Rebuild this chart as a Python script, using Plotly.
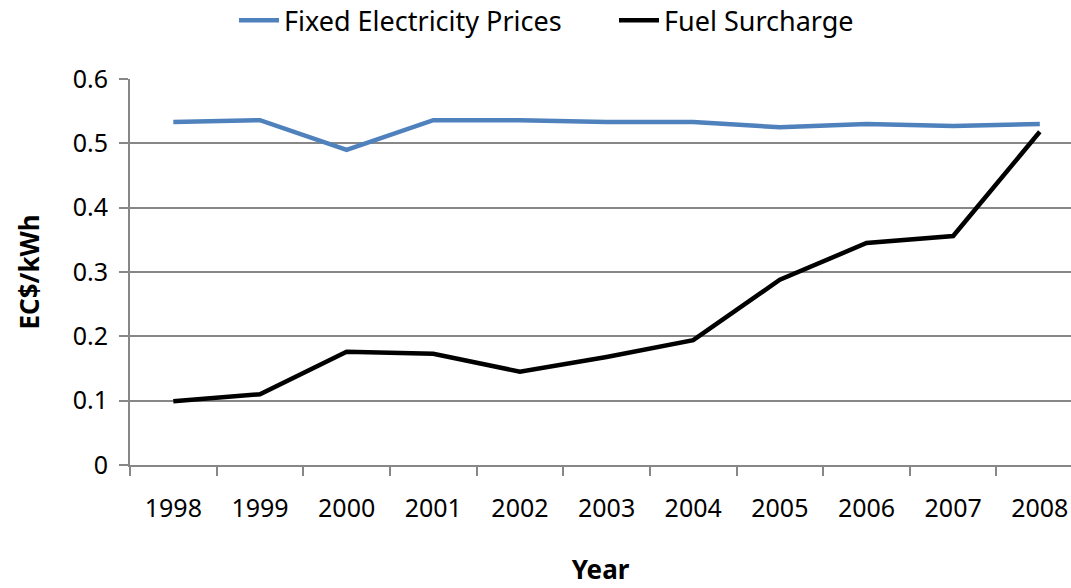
import plotly.graph_objects as go

# data
years = ['1998', '1999', '2000', '2001', '2002', '2003', '2004', '2005', '2006', '2007', '2008']
fixed_prices = [0.533, 0.536, 0.490, 0.536, 0.536, 0.533, 0.533, 0.525, 0.530, 0.527, 0.530]
fuel_surcharge = [0.099, 0.110, 0.176, 0.173, 0.145, 0.168, 0.194, 0.288, 0.345, 0.356, 0.518]

font_name = 'Noto Sans'
axis_grey = '#878787'

fig = go.Figure()
fig.add_trace(go.Scatter(x=years, y=fixed_prices, mode='lines', name='Fixed Electricity Prices',
                         line=dict(color='#4F81BD', width=4.5)))
fig.add_trace(go.Scatter(x=years, y=fuel_surcharge, mode='lines', name='Fuel Surcharge',
                         line=dict(color='black', width=4.5)))

fig.update_layout(
    width=1071, height=588,
    margin=dict(l=130, r=0, t=79, b=123),
    plot_bgcolor='white', paper_bgcolor='white',
    font=dict(family=font_name, size=25, color='black'),
    legend=dict(orientation='h', xref='container', yref='container',
                x=0.2185, y=0.965, xanchor='left', yanchor='middle',
                font=dict(size=27), itemwidth=40, tracegroupgap=0,
                entrywidth=325, entrywidthmode='pixels'),
    showlegend=True,
)

fig.update_xaxes(
    type='category', range=[-0.5, 10.36], automargin=False,
    showline=True, linecolor=axis_grey, linewidth=2,
    ticks='outside', tickson='boundaries', ticklen=9, tickcolor=axis_grey, tickwidth=2,
    ticklabelstandoff=20,
    showgrid=False,
    title=dict(text='<b>Year</b>', font=dict(size=26), standoff=38),
)
fig.update_yaxes(
    range=[0, 0.6], dtick=0.1, tickformat='.1~f', automargin=False,
    showline=True, linecolor=axis_grey, linewidth=2,
    ticks='outside', ticklen=9, tickcolor=axis_grey, tickwidth=2,
    ticklabelstandoff=6,
    showgrid=True, gridcolor=axis_grey, gridwidth=1.5,
    zeroline=False,
    title=dict(text='<b>EC$/kWh</b>', font=dict(size=26), standoff=26),
)

# drop the browser's default page margin so the figure sits at the top-left corner
fig.write_html('out.html', config={'displayModeBar': False},
               post_script="document.body.style.margin='0';document.body.style.overflow='hidden';")
